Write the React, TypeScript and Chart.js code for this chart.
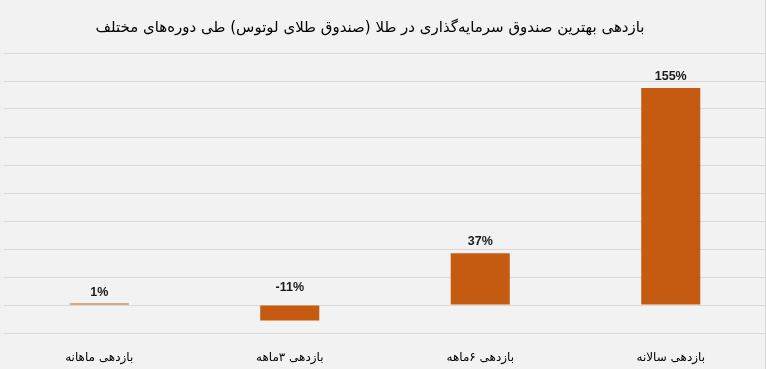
import React, { useEffect, useRef } from "react";
import { Chart, registerables } from "chart.js";

Chart.register(...registerables);

const chartTitle = "بازدهی بهترین صندوق سرمایه‌گذاری در طلا (صندوق طلای لوتوس) طی دوره‌های مختلف";
const categories = ["بازدهی ماهانه", "بازدهی ۳ماهه", "بازدهی ۶ماهه", "بازدهی سالانه"];
const returns = [1, -11, 37, 155];
const yMin = -20;
const yMax = 180;
const yStep = 20;

export default function App() {
  const ref = useRef<HTMLCanvasElement>(null);

  useEffect(() => {
    document.body.style.margin = "0";
    const canvas = ref.current;
    if (!canvas) return;

    const labelPlugin = {
      id: "customLabels",
      afterDatasetsDraw(chart: any) {
        const ctx = chart.ctx;
        const meta = chart.getDatasetMeta(0);
        const zero = chart.scales.y.getPixelForValue(0);
        ctx.save();
        ctx.font = "bold 12.5px 'Liberation Sans'";
        ctx.fillStyle = "#1a1a1a";
        ctx.textAlign = "center";
        ctx.textBaseline = "middle";
        ctx.direction = "ltr";
        meta.data.forEach((bar: any, i: number) => {
          const v = returns[i];
          const y = v >= 0 ? bar.y - 11.5 : zero - 17.5;
          ctx.fillText(`${v}%`, bar.x, y);
        });
        ctx.font = "15px 'DejaVu Sans'";
        ctx.direction = "rtl";
        ctx.fillStyle = "#000000";
        ctx.fillText(chartTitle, 370, 28);
        // outer frame edge on the right
        ctx.strokeStyle = "#d9d9d9";
        ctx.lineWidth = 1;
        ctx.beginPath();
        ctx.moveTo(765.5, 0);
        ctx.lineTo(765.5, chart.height);
        ctx.stroke();
        ctx.restore();
      },
    };

    const chart = new Chart(canvas, {
      type: "bar",
      data: {
        labels: categories,
        datasets: [
          {
            data: returns,
            backgroundColor: "#c55a11",
            borderWidth: 0,
            barPercentage: 0.31,
            categoryPercentage: 1,
          },
        ],
      },
      options: {
        animation: false,
        responsive: true,
        maintainAspectRatio: false,
        layout: { padding: { top: 53, left: 4, right: 0, bottom: 0 } },
        plugins: {
          legend: { display: false },
          title: { display: false },
          tooltip: { enabled: false },
        },
        scales: {
          x: {
            grid: { display: false, drawTicks: false },
            border: { display: false },
            ticks: {
              color: "#000000",
              font: { family: "'DejaVu Sans'", size: 12 },
              padding: 18,
            },
            afterFit(scale: any) {
              scale.height = 36;
            },
          },
          y: {
            min: yMin,
            max: yMax,
            ticks: { display: false, stepSize: yStep },
            grid: { color: "#d9d9d9", lineWidth: 1, drawTicks: false },
            border: { display: false },
          },
        },
      },
      plugins: [labelPlugin],
    });

    return () => chart.destroy();
  }, []);

  return (
    <div
      style={{
        position: "fixed",
        left: 0,
        top: 0,
        width: 766,
        height: 369,
        background: "#f2f2f2",
      }}
    >
      <canvas ref={ref} width={766} height={369} />
    </div>
  );
}
